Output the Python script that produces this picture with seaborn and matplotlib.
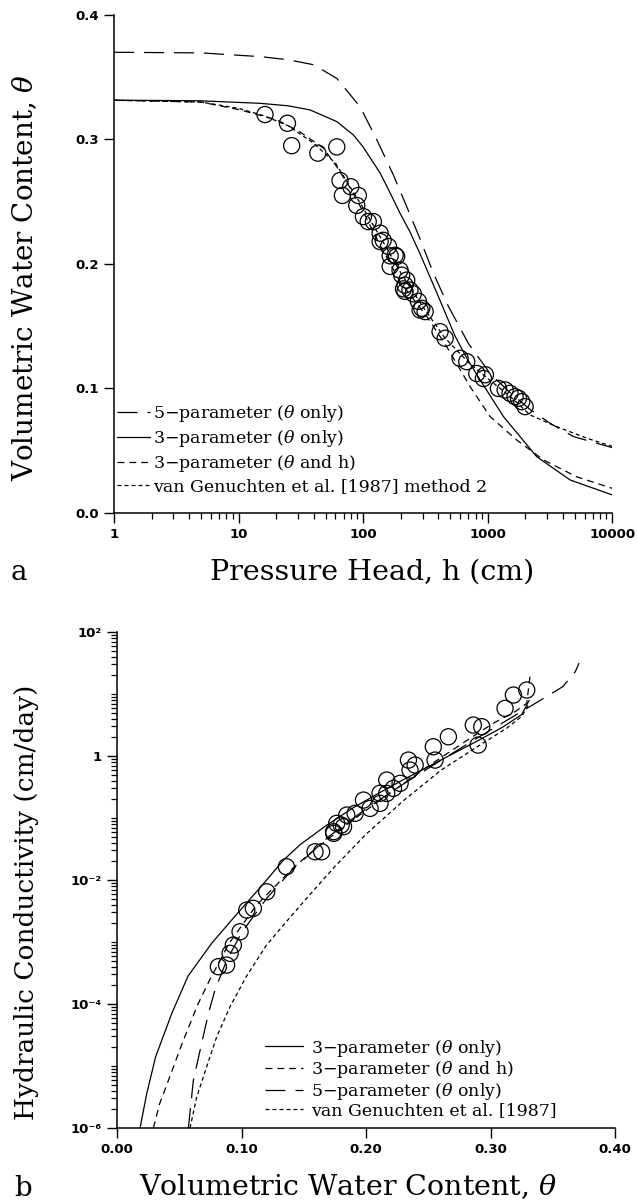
import numpy as np
import pandas as pd
import matplotlib
matplotlib.use("Agg")
import matplotlib.pyplot as plt
import seaborn as sns
from matplotlib.lines import Line2D
from matplotlib.ticker import LogLocator, NullFormatter

# ---------------- Panel a: water retention, theta(h) ----------------
h_obs = [16.3, 24.7, 26.7, 43.3, 61.5, 65.3, 68.2, 79.6, 91.6, 88.9, 100.6, 110, 121,
         137, 145, 137, 160, 165, 165, 181, 186, 198, 204, 211, 217, 217, 224, 238, 253,
         278, 287, 296, 315, 415, 456, 601, 680, 818, 925, 960, 1222, 1383, 1514, 1662,
         1770, 1880, 2000]
theta_obs = [0.320, 0.313, 0.295, 0.289, 0.294, 0.267, 0.255, 0.262, 0.255, 0.247, 0.238,
             0.234, 0.234, 0.2247, 0.219, 0.218, 0.214, 0.2065, 0.198, 0.207, 0.206, 0.195,
             0.191, 0.180, 0.183, 0.178, 0.187, 0.179, 0.176, 0.170, 0.163, 0.1644, 0.1617,
             0.1456, 0.1403, 0.1242, 0.1215, 0.112, 0.108, 0.111, 0.100, 0.0988, 0.0961,
             0.0934, 0.0921, 0.0894, 0.0854]

h_5p = [1, 5, 15, 25, 40, 61.5, 95, 129, 175, 224, 287, 367, 484, 702, 1047, 1500, 2200,
        3177, 4900, 10000]
theta_5p = [0.370, 0.3695, 0.3665, 0.364, 0.360, 0.349, 0.326, 0.2996, 0.2715, 0.246, 0.220,
            0.1925, 0.166, 0.136, 0.112, 0.097, 0.083, 0.072, 0.0613, 0.0525]

h_3p = [1, 2.3, 5, 14.9, 25, 37.5, 61.5, 83.6, 100, 137, 165, 198, 238, 287, 391, 548, 679,
        871, 1340, 2478, 4600, 10000]
theta_3p = [0.3315, 0.3313, 0.331, 0.329, 0.327, 0.3237, 0.3143, 0.3036, 0.294, 0.273, 0.257,
            0.2407, 0.2257, 0.208, 0.1767, 0.142, 0.1245, 0.1068, 0.0774, 0.0452, 0.0265, 0.0145]

h_3ph = [1, 5, 10.3, 20.3, 31.2, 48, 61.5, 80, 100, 137, 200, 324, 469, 723, 1047, 1714,
         2805, 5200, 10000]
theta_3ph = [0.3315, 0.330, 0.3237, 0.3157, 0.306, 0.293, 0.278, 0.260, 0.242, 0.215, 0.185,
             0.158, 0.1336, 0.1015, 0.0774, 0.0586, 0.0426, 0.029, 0.0198]

h_vg = [1, 5, 10, 16, 25, 40, 60, 100, 150, 200, 300, 450, 700, 1000, 1500, 2193, 3590,
        6270, 10000]
theta_vg = [0.3315, 0.330, 0.325, 0.319, 0.311, 0.297, 0.281, 0.245, 0.215, 0.193, 0.166,
            0.141, 0.121, 0.108, 0.094, 0.0787, 0.0693, 0.060, 0.0535]

labels_a = ["5\u2212parameter ($\\theta$ only)",
            "3\u2212parameter ($\\theta$ only)",
            "3\u2212parameter ($\\theta$ and h)",
            "van Genuchten et al. [1987] method 2"]
h_ticks = [1, 10, 100, 1000, 10000]
h_ticklabels = ["1", "10", "100", "1000", "10000"]
theta_ticks_a = [0.0, 0.1, 0.2, 0.3, 0.4]
theta_ticklabels_a = ["0.0", "0.1", "0.2", "0.3", "0.4"]

# ---------------- Panel b: conductivity, K(theta) ----------------
theta_K_obs = [0.0814, 0.088, 0.0908, 0.0934, 0.0988, 0.1042, 0.1095, 0.1202, 0.136, 0.159,
               0.1643, 0.174, 0.1739, 0.1764, 0.180, 0.1819, 0.1845, 0.1912, 0.1979, 0.2032,
               0.2112, 0.2112, 0.2166, 0.2166, 0.222, 0.2273, 0.234, 0.2353, 0.2394, 0.254,
               0.2554, 0.2661, 0.2861, 0.2929, 0.290, 0.3116, 0.3183, 0.329]
log10_K_obs = [-3.398, -3.371, -3.182, -3.048, -2.834, -2.484, -2.456, -2.189, -1.785, -1.544,
               -1.544, -1.247, -1.22, -1.085, -1.113, -1.14, -0.952, -0.924, -0.71, -0.844,
               -0.763, -0.6, -0.387, -0.602, -0.521, -0.44, -0.065, -0.226, -0.145, 0.15,
               -0.065, 0.311, 0.5, 0.473, 0.177, 0.769, 0.984, 1.065]

thK_3p = [0.0185, 0.0238, 0.031, 0.044, 0.057, 0.076, 0.094, 0.115, 0.1336, 0.147, 0.168,
          0.19, 0.21, 0.23, 0.25, 0.27, 0.29, 0.31, 0.325, 0.331]
logK_3p = [-6.0, -5.45, -4.85, -4.15, -3.55, -3.02, -2.6, -2.12, -1.68, -1.43, -1.12, -0.83,
           -0.6, -0.38, -0.17, 0.04, 0.25, 0.47, 0.67, 0.9]

thK_3ph = [0.0292, 0.034, 0.040, 0.052, 0.065, 0.0747, 0.09, 0.1122, 0.1416, 0.155, 0.18,
           0.21, 0.2487, 0.28, 0.302, 0.32, 0.329, 0.3317]
logK_3ph = [-6.0, -5.62, -5.3, -4.65, -4.0, -3.6, -3.02, -2.4, -1.8, -1.57, -1.17, -0.73,
            -0.18, 0.24, 0.527, 0.72, 0.85, 1.3]

thK_5p = [0.0573, 0.0613, 0.068, 0.0734, 0.0787, 0.088, 0.1, 0.12, 0.14, 0.17, 0.2, 0.23,
          0.26, 0.29, 0.32, 0.345, 0.358, 0.368, 0.371]
logK_5p = [-6.0, -5.23, -4.63, -4.15, -3.77, -3.3, -2.85, -2.3, -1.85, -1.3, -0.85, -0.45,
           -0.07, 0.3, 0.66, 0.96, 1.12, 1.36, 1.5]

thK_vg = [0.0586, 0.064, 0.072, 0.080, 0.0908, 0.104, 0.12, 0.139, 0.152, 0.175, 0.2, 0.23,
          0.26, 0.29, 0.313, 0.325, 0.331]
logK_vg = [-6.0, -5.5, -5.01, -4.53, -4.04, -3.55, -3.05, -2.6, -2.3, -1.78, -1.26, -0.72,
           -0.23, 0.16, 0.45, 0.64, 0.85]

labels_b = ["3\u2212parameter ($\\theta$ only)",
            "3\u2212parameter ($\\theta$ and h)",
            "5\u2212parameter ($\\theta$ only)",
            "van Genuchten et al. [1987]"]
K_ticks = [1e-6, 1e-4, 1e-2, 1, 1e2]
K_ticklabels = ["10\u207b\u2076", "10\u207b\u2074", "10\u207b\u00b2", "1", "10\u00b2"]
theta_ticks_b = [0.0, 0.1, 0.2, 0.3, 0.4]
theta_ticklabels_b = ["0.00", "0.10", "0.20", "0.30", "0.40"]

# ---------------- style ----------------
sns.set_theme(style="ticks")
plt.rcParams["font.family"] = ["DejaVu Serif"]
plt.rcParams.update({
    "mathtext.fontset": "dejavuserif",
    "axes.edgecolor": "black",
    "axes.linewidth": 1.1,
    "xtick.color": "black",
    "ytick.color": "black",
    "text.color": "black",
    "axes.labelcolor": "black",
})

LW = 0.9
dash_styles = {
    "solid": "",
    "long": (16, 8),
    "medium": (5.5, 4),
    "short": (3.2, 2.4),
}

tick_font = dict(fontfamily="DejaVu Sans", fontweight="bold", fontsize=9.5)
LEG_FS = 12.5

fig = plt.figure(figsize=(6.37, 12.03), dpi=100)
ax1 = fig.add_axes([0.179, 0.5736, 0.782, 0.414])
ax2 = fig.add_axes([0.1837, 0.0623, 0.782, 0.4123])

# ---- panel a ----
ax1.set_xscale("log")
curves_a = pd.concat([
    pd.DataFrame({"h": h_5p, "theta": theta_5p, "model": "long"}),
    pd.DataFrame({"h": h_3p, "theta": theta_3p, "model": "solid"}),
    pd.DataFrame({"h": h_3ph, "theta": theta_3ph, "model": "medium"}),
    pd.DataFrame({"h": h_vg, "theta": theta_vg, "model": "short"}),
], ignore_index=True)
sns.lineplot(data=curves_a, x="h", y="theta", style="model", dashes=dash_styles,
             color="black", linewidth=LW, sort=False, estimator=None, legend=False, ax=ax1)
sns.scatterplot(x=h_obs, y=theta_obs, ax=ax1, s=135, facecolors="none",
                edgecolor="black", linewidth=0.9, zorder=3, legend=False)
ax1.set_xlim(1, 10000)
ax1.set_ylim(0, 0.4)
ax1.set_xticks(h_ticks, labels=h_ticklabels, **tick_font)
ax1.xaxis.set_minor_locator(LogLocator(base=10, subs=np.arange(2, 10), numticks=50))
ax1.xaxis.set_minor_formatter(NullFormatter())
ax1.set_yticks(theta_ticks_a, labels=theta_ticklabels_a, **tick_font)
ax1.tick_params(which="major", direction="out", length=7, width=1.0, pad=4)
ax1.tick_params(which="minor", direction="out", length=4.5, width=0.9)
ax1.set_xlabel("Pressure Head, h (cm)", fontsize=20.5)
ax1.set_ylabel("Volumetric Water Content, $\\theta$", fontsize=20)
ax1.xaxis.label.set_va("center")
ax1.yaxis.label.set_va("center")
ax1.xaxis.set_label_coords(0.518, -0.118)
ax1.yaxis.set_label_coords(-0.179, 0.472)
sns.despine(ax=ax1)

handles_a = [Line2D([], [], color="black", lw=LW, linestyle=(0, dash_styles["long"])),
             Line2D([], [], color="black", lw=LW),
             Line2D([], [], color="black", lw=LW, linestyle=(0, dash_styles["medium"])),
             Line2D([], [], color="black", lw=LW, linestyle=(0, dash_styles["short"]))]
ax1.legend(handles_a, labels_a, loc="lower left", bbox_to_anchor=(0.006, 0.035),
           frameon=False, fontsize=LEG_FS, handlelength=1.9, handletextpad=0.2,
           labelspacing=0.24, borderpad=0, borderaxespad=0)

# ---- panel b ----
ax2.set_yscale("log")
curves_b = pd.concat([
    pd.DataFrame({"theta": thK_3p, "K": np.power(10.0, logK_3p), "model": "solid"}),
    pd.DataFrame({"theta": thK_3ph, "K": np.power(10.0, logK_3ph), "model": "medium"}),
    pd.DataFrame({"theta": thK_5p, "K": np.power(10.0, logK_5p), "model": "long"}),
    pd.DataFrame({"theta": thK_vg, "K": np.power(10.0, logK_vg), "model": "short"}),
], ignore_index=True)
sns.lineplot(data=curves_b, x="theta", y="K", style="model", dashes=dash_styles,
             color="black", linewidth=LW, sort=False, estimator=None, legend=False, ax=ax2)
sns.scatterplot(x=theta_K_obs, y=np.power(10.0, log10_K_obs), ax=ax2, s=135,
                facecolors="none", edgecolor="black", linewidth=0.9, zorder=3, legend=False)
ax2.set_xlim(0, 0.4)
ax2.set_ylim(1e-6, 1e2)
ax2.set_xticks(theta_ticks_b, labels=theta_ticklabels_b, **tick_font)
ax2.set_yticks(K_ticks, labels=K_ticklabels, **tick_font)
ax2.yaxis.set_minor_locator(LogLocator(base=10, subs=np.arange(1, 10), numticks=100))
ax2.yaxis.set_minor_formatter(NullFormatter())
ax2.tick_params(which="major", direction="out", length=7, width=1.0, pad=4)
ax2.tick_params(which="minor", direction="out", length=4, width=0.9)
ax2.set_xlabel("Volumetric Water Content, $\\theta$", fontsize=20.5)
ax2.set_ylabel("Hydraulic Conductivity (cm/day)", fontsize=19)
ax2.xaxis.label.set_va("center")
ax2.yaxis.label.set_va("center")
ax2.xaxis.set_label_coords(0.464, -0.119)
ax2.yaxis.set_label_coords(-0.181, 0.456)
sns.despine(ax=ax2)

handles_b = [Line2D([], [], color="black", lw=LW),
             Line2D([], [], color="black", lw=LW, linestyle=(0, dash_styles["medium"])),
             Line2D([], [], color="black", lw=LW, linestyle=(0, dash_styles["long"])),
             Line2D([], [], color="black", lw=LW, linestyle=(0, dash_styles["short"]))]
ax2.legend(handles_b, labels_b, loc="lower left", bbox_to_anchor=(0.297, 0.018),
           frameon=False, fontsize=LEG_FS, handlelength=2.2, handletextpad=0.45,
           labelspacing=0.03, borderpad=0, borderaxespad=0)

fig.text(19 / 637, 1 - 573 / 1203, "a", fontsize=20, ha="center", va="center")
fig.text(23 / 637, 1 - 1188 / 1203, "b", fontsize=20, ha="center", va="center")

fig.savefig("out.png", dpi=100, facecolor="white")
